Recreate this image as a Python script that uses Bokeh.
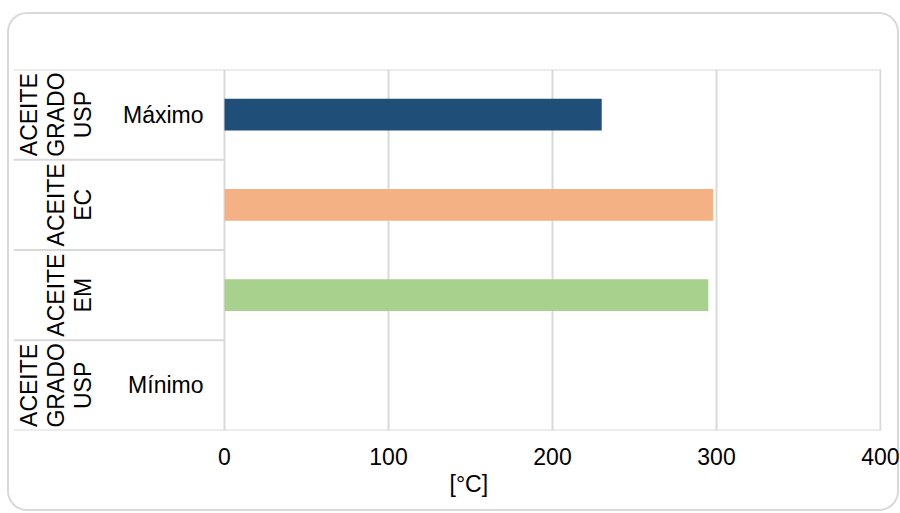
from math import pi
from bokeh.plotting import figure
from bokeh.models import FactorRange, Range1d, FixedTicker, ColumnDataSource, Title
from bokeh.core.properties import value
from bokeh.embed import file_html
from bokeh.resources import INLINE

# ---- data ----
groups = ["ACEITE GRADO USP", "ACEITE EC", "ACEITE EM", "ACEITE GRADO USP"]
levels = ["Máximo", "", "", "Mínimo"]
temps = [230, 298, 295, 0]
colors = ["#1F4E79", "#F4B183", "#A9D18E", "#1F4E79"]
x_ticks = [0, 100, 200, 300, 400]
x_title = "[°C]"

keys = [(g + " " + l).strip() for g, l in zip(groups, levels)]
FONT = value("Liberation Sans")
FS = "23px"
GRID = "#d9d9d9"

x_left = -128.66
x_right = 400.6

p = figure(width=892, height=499, output_backend="svg", toolbar_location=None,
           x_range=Range1d(x_left, x_right),
           y_range=FactorRange(factors=list(reversed(keys)), range_padding=0, factor_padding=0),
           min_border_left=6, min_border_right=18, min_border_top=57, min_border_bottom=81)
p.styles = {"margin-left": "7px", "margin-top": "12px", "border-radius": "20px",
            "box-shadow": "inset 0 0 0 2px #d9d9d9"}
p.border_fill_color = None
p.background_fill_color = None
p.outline_line_color = None

src = ColumnDataSource(dict(y=keys, right=temps, color=colors,
                            outer=[g.replace(" ", "\n") for g in groups], inner=levels))

p.hbar(y="y", left=0, right="right", height=0.35, fill_color="color",
       line_color=None, source=src)

# category labels (two-level axis drawn as table)
p.text(x=-78.2, y="y", text="outer", source=src, angle=pi / 2,
       text_align="center", text_baseline="bottom", text_font=FONT,
       text_font_size=FS, text_line_height=1.05, text_color="black")
p.text(x=-12.8, y="y", text="inner", source=src,
       text_align="right", text_baseline="middle", text_font=FONT,
       text_font_size=FS, text_color="black")

# separators
mid_y = [(k, -0.5) for k in keys[:-1]]
p.segment(x0=[x_left] * len(mid_y), x1=[0] * len(mid_y), y0=mid_y, y1=mid_y,
          line_color=GRID, line_width=2)
edge_y = [(keys[0], 0.5), (keys[-1], -0.5)]
p.segment(x0=[x_left] * 2, x1=[x_right] * 2, y0=edge_y, y1=edge_y,
          line_color=GRID, line_width=2)

# axes
p.yaxis.visible = False
p.ygrid.grid_line_color = None
xa = p.xaxis[0]
xa.ticker = FixedTicker(ticks=x_ticks)
xa.axis_line_color = None
xa.major_tick_line_color = None
xa.minor_tick_line_color = None
xa.major_tick_out = 0
xa.major_label_standoff = 17
xa.major_label_text_font = "Liberation Sans"
xa.major_label_text_font_size = FS
xa.major_label_text_color = "black"
p.xgrid.ticker = FixedTicker(ticks=x_ticks)
p.xgrid.grid_line_color = GRID
p.xgrid.grid_line_width = 2

p.add_layout(Title(text=x_title, align="left", offset=436, standoff=3,
                   text_font="Liberation Sans", text_font_size=FS,
                   text_font_style="normal", text_color="black"), "below")

open("out.html", "w").write(file_html(p, INLINE))
